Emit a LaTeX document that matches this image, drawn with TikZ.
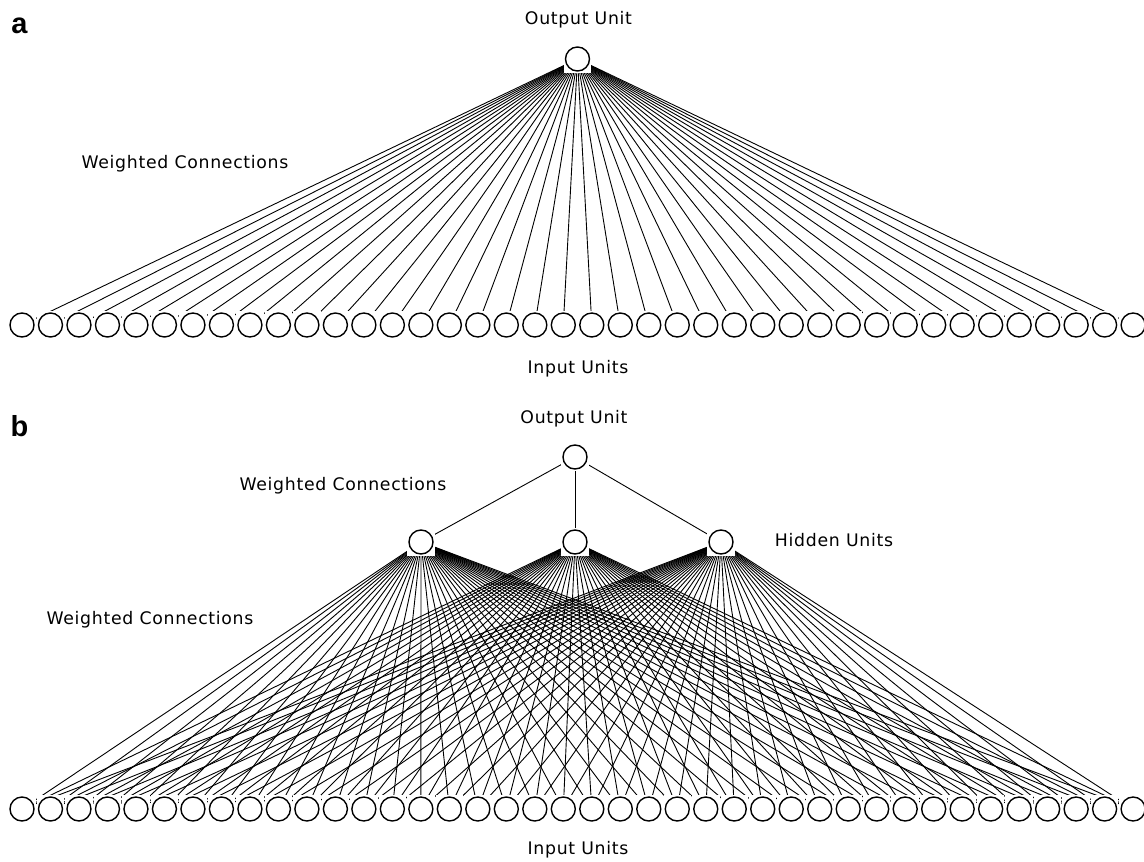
\documentclass[tikz,border=0pt]{standalone}
\usepackage{fontspec}
\setmainfont{DejaVu Sans}[LetterSpace=4]
\newfontfamily\labfont{Liberation Sans}
\pgfdeclarelayer{bg}
\pgfsetlayers{bg,main}
\tikzset{
  unit/.style={rectangle, minimum size=27.5pt, inner sep=0pt, fill=white, draw=none,
    path picture={\draw[line width=1.4pt] (path picture bounding box.center) circle (12pt);}},
  conn/.style={line width=0.9pt, black},
  lbl/.style={anchor=base, inner sep=0pt, font=\fontsize{17.3}{20}\selectfont},
  panel/.style={anchor=base, inner sep=0pt, font=\labfont\bfseries\fontsize{29}{32}\selectfont}
}
\begin{document}
\begin{tikzpicture}[x=1pt,y=-1pt]
\useasboundingbox (0,0) rectangle (1144,862);
% ---------- panel a ----------
\node[panel] (la) at (19.5,33) {a};
\node[lbl] (aot) at (578.5,24.5) {Output Unit};
\node[lbl] (awc) at (185,168.3) {Weighted Connections};
\node[lbl] (ait) at (578,373) {Input Units};
\node[unit] (ao) at (577.5,59) {};
\foreach \i in {0,...,39} {
  \node[unit] (ai\i) at ({22+\i*28.49},325) {};
}
\begin{pgfonlayer}{bg}
\foreach \i in {0,...,39} {
  \draw[conn] (ao.center) -- (ai\i.center);
}
\end{pgfonlayer}
% ---------- panel b ----------
\node[panel] (lb) at (19.5,436) {b};
\node[lbl] (bot) at (574,423.5) {Output Unit};
\node[lbl] (bwc1) at (343,490) {Weighted Connections};
\node[lbl] (bht) at (834,546) {Hidden Units};
\node[lbl] (bwc2) at (150,624) {Weighted Connections};
\node[lbl] (bit) at (578,854) {Input Units};
\node[unit] (bo) at (575,457) {};
\node[unit] (bh1) at (421,542) {};
\node[unit] (bh2) at (575,542) {};
\node[unit] (bh3) at (721,542) {};
\foreach \i in {0,...,39} {
  \node[unit] (bi\i) at ({22+\i*28.49},809) {};
}
\begin{pgfonlayer}{bg}
\foreach \h in {1,2,3} {
  \draw[conn] (bo.center) -- (bh\h.center);
  \foreach \i in {0,...,39} {
    \draw[conn] (bh\h.center) -- (bi\i.center);
  }
}
\end{pgfonlayer}
\end{tikzpicture}
\end{document}
